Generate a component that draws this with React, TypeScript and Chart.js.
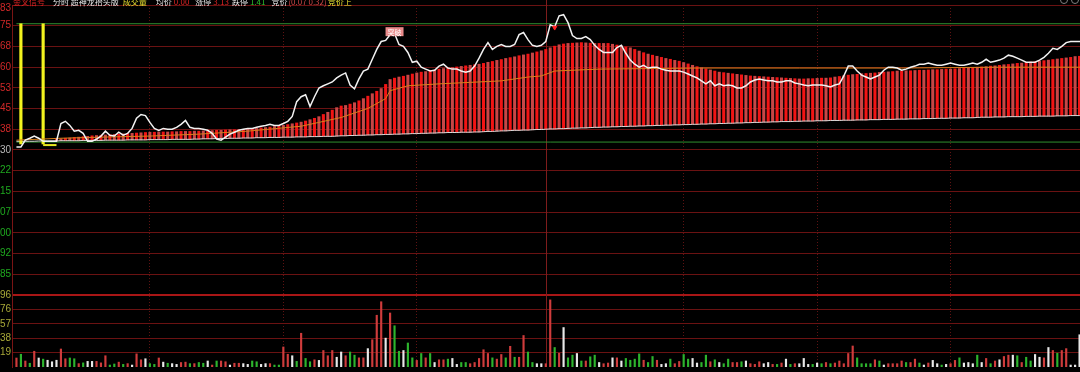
import React, { useEffect, useRef } from "react";
import { Chart, registerables } from "chart.js";
Chart.register(...registerables);

// ---------- data (minute index 0..240, price in yuan) ----------
const PRE_CLOSE = 2.3;
const PRICE_TICKS = [2.8306, 2.7548, 2.679, 2.6032, 2.5274, 2.4516, 2.3758, 2.3, 2.2242, 2.1484, 2.0726, 1.9968, 1.921, 1.8452];
const VOL_TICKS = [19.2, 38.4, 57.6, 76.8, 96];
const X_GRID_MINUTES = [30, 60, 90, 150, 180, 210];
const CURSOR_MINUTE = 119;

const PRICE = [
  2.311, 2.311, 2.336, 2.343, 2.351, 2.343, 2.332, 2.332, 2.332, 2.332,
  2.397, 2.405, 2.390, 2.369, 2.372, 2.361, 2.332, 2.332, 2.340, 2.351,
  2.369, 2.354, 2.351, 2.365, 2.354, 2.361, 2.379, 2.416, 2.430, 2.426,
  2.401, 2.379, 2.372, 2.379, 2.376, 2.376, 2.383, 2.394, 2.408, 2.383,
  2.379, 2.379, 2.376, 2.372, 2.361, 2.340, 2.336, 2.347, 2.358, 2.365,
  2.372, 2.376, 2.379, 2.379, 2.383, 2.387, 2.390, 2.394, 2.390, 2.390,
  2.397, 2.405, 2.423, 2.477, 2.495, 2.502, 2.459, 2.495, 2.527, 2.535,
  2.542, 2.549, 2.564, 2.574, 2.582, 2.538, 2.524, 2.560, 2.589, 2.596,
  2.632, 2.668, 2.697, 2.701, 2.722, 2.726, 2.686, 2.679, 2.657, 2.621,
  2.625, 2.603, 2.596, 2.589, 2.592, 2.607, 2.614, 2.600, 2.596, 2.596,
  2.589, 2.585, 2.589, 2.607, 2.636, 2.668, 2.693, 2.668, 2.679, 2.686,
  2.679, 2.679, 2.686, 2.722, 2.730, 2.704, 2.683, 2.679, 2.683, 2.697,
  2.758, 2.751, 2.791, 2.795, 2.766, 2.719, 2.708, 2.708, 2.715, 2.704,
  2.683, 2.668, 2.657, 2.657, 2.657, 2.675, 2.683, 2.654, 2.629, 2.614,
  2.603, 2.610, 2.600, 2.603, 2.603, 2.596, 2.592, 2.589, 2.589, 2.589,
  2.585, 2.578, 2.571, 2.564, 2.553, 2.542, 2.553, 2.535, 2.542, 2.535,
  2.538, 2.535, 2.527, 2.527, 2.535, 2.549, 2.556, 2.560, 2.556, 2.553,
  2.553, 2.549, 2.549, 2.553, 2.553, 2.545, 2.542, 2.538, 2.535, 2.538,
  2.538, 2.538, 2.535, 2.531, 2.538, 2.542, 2.571, 2.607, 2.607, 2.589,
  2.574, 2.567, 2.560, 2.567, 2.574, 2.592, 2.603, 2.603, 2.600, 2.592,
  2.596, 2.603, 2.607, 2.614, 2.614, 2.618, 2.614, 2.610, 2.610, 2.614,
  2.618, 2.614, 2.610, 2.610, 2.614, 2.618, 2.614, 2.621, 2.632, 2.621,
  2.625, 2.629, 2.636, 2.647, 2.643, 2.636, 2.629, 2.621, 2.621, 2.621,
  2.629, 2.639, 2.654, 2.672, 2.668, 2.679, 2.693, 2.697, 2.697, 2.697,
  2.697,
];

const BAR_TOP = [
  null, null, null, null, null, null, null, null, null, 2.340,
  2.341, 2.343, 2.344, 2.346, 2.347, 2.349, 2.350, 2.352, 2.353, 2.354,
  2.355, 2.356, 2.357, 2.358, 2.359, 2.360, 2.361, 2.362, 2.363, 2.364,
  2.365, 2.365, 2.366, 2.366, 2.366, 2.367, 2.367, 2.368, 2.368, 2.368,
  2.369, 2.369, 2.370, 2.370, 2.371, 2.372, 2.372, 2.373, 2.374, 2.374,
  2.375, 2.375, 2.376, 2.378, 2.379, 2.381, 2.382, 2.384, 2.386, 2.387,
  2.390, 2.393, 2.396, 2.399, 2.402, 2.406, 2.411, 2.416, 2.422, 2.430,
  2.438, 2.446, 2.455, 2.461, 2.463, 2.468, 2.473, 2.480, 2.488, 2.497,
  2.506, 2.515, 2.525, 2.540, 2.558, 2.563, 2.567, 2.570, 2.574, 2.578,
  2.582, 2.585, 2.587, 2.590, 2.593, 2.596, 2.598, 2.600, 2.602, 2.604,
  2.606, 2.608, 2.610, 2.612, 2.614, 2.617, 2.621, 2.624, 2.628, 2.631,
  2.635, 2.638, 2.641, 2.645, 2.648, 2.651, 2.655, 2.659, 2.663, 2.668,
  2.674, 2.680, 2.685, 2.688, 2.690, 2.691, 2.692, 2.693, 2.692, 2.691,
  2.690, 2.690, 2.690, 2.690, 2.687, 2.684, 2.681, 2.677, 2.674, 2.668,
  2.662, 2.656, 2.651, 2.647, 2.643, 2.639, 2.635, 2.632, 2.628, 2.625,
  2.620, 2.615, 2.610, 2.605, 2.601, 2.597, 2.593, 2.589, 2.585, 2.583,
  2.581, 2.579, 2.577, 2.575, 2.573, 2.571, 2.570, 2.569, 2.568, 2.567,
  2.566, 2.565, 2.564, 2.563, 2.562, 2.561, 2.560, 2.560, 2.561, 2.561,
  2.562, 2.563, 2.563, 2.564, 2.567, 2.569, 2.572, 2.574, 2.576, 2.577,
  2.579, 2.580, 2.581, 2.582, 2.584, 2.585, 2.586, 2.587, 2.589, 2.589,
  2.590, 2.590, 2.591, 2.592, 2.592, 2.593, 2.594, 2.594, 2.595, 2.596,
  2.596, 2.597, 2.598, 2.599, 2.600, 2.601, 2.603, 2.604, 2.605, 2.607,
  2.608, 2.610, 2.612, 2.613, 2.615, 2.617, 2.618, 2.620, 2.622, 2.623,
  2.625, 2.627, 2.629, 2.631, 2.633, 2.635, 2.637, 2.639, 2.642, 2.643,
  2.644,
];

const BAR_BASE = [
  2.332, 2.332, 2.332, 2.332, 2.332, 2.333, 2.333, 2.333, 2.333, 2.333,
  2.334, 2.334, 2.334, 2.334, 2.334, 2.335, 2.335, 2.335, 2.335, 2.335,
  2.336, 2.336, 2.336, 2.336, 2.336, 2.337, 2.337, 2.337, 2.337, 2.337,
  2.338, 2.338, 2.338, 2.338, 2.338, 2.339, 2.339, 2.339, 2.339, 2.339,
  2.340, 2.340, 2.341, 2.341, 2.341, 2.342, 2.342, 2.342, 2.343, 2.343,
  2.343, 2.344, 2.344, 2.344, 2.345, 2.345, 2.345, 2.346, 2.346, 2.346,
  2.347, 2.347, 2.347, 2.348, 2.348, 2.348, 2.349, 2.349, 2.349, 2.350,
  2.350, 2.350, 2.351, 2.352, 2.352, 2.353, 2.353, 2.354, 2.354, 2.355,
  2.355, 2.356, 2.356, 2.357, 2.357, 2.358, 2.358, 2.359, 2.359, 2.360,
  2.360, 2.361, 2.361, 2.362, 2.362, 2.363, 2.363, 2.364, 2.364, 2.364,
  2.365, 2.365, 2.365, 2.366, 2.366, 2.367, 2.368, 2.368, 2.369, 2.370,
  2.370, 2.371, 2.372, 2.372, 2.373, 2.373, 2.374, 2.375, 2.375, 2.376,
  2.377, 2.377, 2.378, 2.378, 2.379, 2.380, 2.380, 2.381, 2.381, 2.382,
  2.383, 2.383, 2.384, 2.384, 2.385, 2.385, 2.386, 2.386, 2.387, 2.387,
  2.388, 2.388, 2.389, 2.389, 2.390, 2.390, 2.391, 2.391, 2.392, 2.392,
  2.393, 2.393, 2.394, 2.394, 2.395, 2.395, 2.396, 2.396, 2.397, 2.397,
  2.398, 2.398, 2.399, 2.399, 2.400, 2.400, 2.401, 2.401, 2.402, 2.402,
  2.403, 2.403, 2.404, 2.404, 2.404, 2.405, 2.405, 2.406, 2.406, 2.406,
  2.407, 2.407, 2.407, 2.408, 2.408, 2.408, 2.409, 2.409, 2.409, 2.410,
  2.410, 2.410, 2.411, 2.411, 2.411, 2.412, 2.412, 2.412, 2.413, 2.413,
  2.413, 2.414, 2.414, 2.414, 2.415, 2.415, 2.415, 2.416, 2.416, 2.416,
  2.417, 2.417, 2.417, 2.418, 2.418, 2.418, 2.419, 2.420, 2.420, 2.420,
  2.421, 2.421, 2.421, 2.422, 2.422, 2.422, 2.422, 2.423, 2.423, 2.423,
  2.424, 2.424, 2.424, 2.424, 2.425, 2.425, 2.425, 2.426, 2.426, 2.426,
  2.426,
];

const AVG_MINUTES = [0, 10, 19, 30, 41, 52, 64, 68, 73, 79, 83, 84, 88, 95, 109, 115, 118, 121, 131, 154, 176, 199, 221, 240];
const AVG_PRICES = [2.336, 2.343, 2.347, 2.351, 2.358, 2.369, 2.387, 2.401, 2.419, 2.452, 2.488, 2.517, 2.535, 2.542, 2.553, 2.567, 2.571, 2.589, 2.596, 2.600, 2.600, 2.600, 2.603, 2.603];

const VOLUME = [
  12, 17, 8, 5, 21, 12, 10.5, 9, 7, 9,
  24, 11, 12, 11, 4.5, 5.5, 7.5, 7.5, 7.5, 5.5,
  15, 2.6, 4, 6.5, 3.5, 4.5, 2.6, 17.5, 9.6, 11,
  4.5, 3.5, 12, 6.5, 5, 4.5, 3.5, 6, 6.5, 4.5,
  4.5, 6, 5, 8, 2.6, 8, 8, 7, 2.6, 5,
  5, 4.5, 3.5, 8, 7, 3.5, 4.5, 4.5, 2.6, 2.6,
  26.7, 17, 15, 7.5, 45, 11.4, 7, 9.6, 8.8, 22,
  15, 22, 13, 20, 15, 20, 15.8, 12.2, 12.2, 24.5,
  36.4, 69, 87, 38.5, 72, 55, 21, 22, 32, 12.2,
  8.8, 18, 12.2, 18, 6, 9.6, 9.6, 10.5, 11.4, 3.5,
  6, 6, 4.4, 6, 11.4, 23, 18, 12.2, 10.5, 16.7,
  12.2, 27.6, 13, 13, 42, 20, 6, 4.4, 4.4, 4.4,
  89.5, 26, 18.4, 52.6, 12.2, 15.8, 18, 8, 8, 13.6,
  15.8, 6, 4.4, 5.3, 12.2, 12.2, 8, 11.4, 9, 10.5,
  17.5, 9, 6, 14, 9, 3.5, 4.4, 10.5, 4.4, 7.4,
  16.7, 10.5, 11.4, 5.3, 6, 15.8, 7, 9.6, 6, 4.4,
  10.5, 6, 6, 7, 8, 4.4, 3.5, 7, 4.4, 6,
  3.5, 3.5, 5.3, 10.5, 3.5, 4.4, 4.4, 11.4, 3.5, 3.5,
  5.3, 4.4, 6, 4.4, 5.3, 8, 4.4, 18, 28, 12.2,
  4.4, 4.4, 4.4, 9.6, 8, 2.6, 4.4, 4.4, 4.4, 8,
  6, 6, 10.5, 5.3, 2.6, 5.3, 8.8, 4.4, 2.6, 3.5,
  4.4, 8.8, 12.2, 5.3, 6, 4.4, 15.8, 6, 11.4, 4.4,
  8, 9.6, 14, 15.8, 15.8, 15, 6, 13, 8, 16.7,
  13, 12.2, 26, 22, 18.4, 22, 24.5, 2.6, 2.6, 43,
];
// 1 = up (red), -1 = down (green), 0 = flat (white)
const VOLUME_DIR = [
  1, -1, 1, -1, 1, 0, -1, 0, 0, 0,
  1, 1, -1, -1, 1, -1, 0, 0, 1, 1,
  1, -1, -1, 1, -1, 1, 0, 1, 1, 0,
  -1, -1, 1, 0, -1, 0, 0, 1, 1, -1,
  1, -1, -1, 0, 1, -1, 1, 1, 0, 1,
  1, 0, 0, -1, -1, 0, 0, 1, -1, -1,
  1, 1, 0, -1, 1, -1, -1, 1, 0, 1,
  1, 1, 0, 0, 1, -1, -1, 1, 1, 0,
  1, 1, 1, 0, 1, -1, -1, 0, -1, -1,
  1, -1, 1, -1, 0, 1, 1, -1, 0, 0,
  -1, -1, 1, 1, 1, 1, 1, -1, 1, 1,
  -1, 1, -1, 1, 1, -1, -1, 0, 0, 1,
  1, -1, 1, 0, -1, -1, 0, -1, 1, -1,
  -1, 0, 1, 1, 0, 1, 0, -1, -1, -1,
  -1, 1, -1, -1, 1, 0, 0, -1, 1, 1,
  -1, -1, 0, 0, -1, -1, 1, -1, 0, -1,
  -1, 1, 1, -1, 0, 1, 1, 1, 0, 0,
  1, -1, 1, 0, -1, 1, 0, 0, 0, -1,
  0, -1, 1, -1, 1, 1, 1, 1, 1, -1,
  -1, -1, -1, 1, -1, 0, 1, 1, 1, 1,
  -1, 1, 1, -1, 0, 1, 0, 0, -1, 0,
  1, 1, -1, 0, 0, 0, -1, 0, 1, -1,
  1, 0, 1, 1, 0, -1, 1, -1, -1, 0,
  0, 1, 0, 1, -1, 1, 1, 0, 0, 0,
];

const SIGNAL_MINUTES = [1, 6];
const SIGNAL_LOW = 2.322;
const SIGNAL_HIGH = 2.762;
const SIGNAL_FLOOR_MINUTES = [6, 9];
const SIGNAL_FLOOR_PRICE = 2.318;
const LEVEL_HIGH = 2.762;
const LEVEL_LOW = 2.329;
const MARK_TEXT = "突破";
const MARK_MINUTE = 85;
const MARK_PRICE = 2.733;
const PEAK_MARK_MINUTE = 121;
const PEAK_MARK_PRICE = 2.748;

const HEADER = [
  { text: "金叉信号", color: "#e02424", gap: 8 },
  { text: "分时 超神龙抬头版", color: "#e6e6e6", gap: 4 },
  { text: "成交量", color: "#e8e030", gap: 9 },
  { text: "均价", color: "#e6e6e6", gap: 2 },
  { text: "0.00", color: "#e02424", gap: 6 },
  { text: "涨停", color: "#e6e6e6", gap: 2 },
  { text: "3.13", color: "#e02424", gap: 3 },
  { text: "跌停", color: "#e6e6e6", gap: 2 },
  { text: "1.41", color: "#2cc02c", gap: 6 },
  { text: "竞价", color: "#e6e6e6", gap: 1 },
  { text: "(0.07 0.32)", color: "#d04848", gap: 1 },
  { text: "竞价上", color: "#e8e030", gap: 0 },
];

// layout constants for the two panes sharing one chart area
const PRICE_MAX = 2.8306;
const PRICE_MIN = 1.5059;
const VOL_MAX = 482.6;

const GRID = "#6a1212";

export default function App() {
  const ref = useRef<HTMLCanvasElement>(null);

  useEffect(() => {
    document.body.style.margin = "0";
    document.body.style.background = "#000";
    const canvas = ref.current!;

    const overlay = {
      id: "overlay",
      beforeDraw(chart: any) {
        const { ctx, width, height } = chart;
        ctx.save();
        ctx.fillStyle = "#000";
        ctx.fillRect(0, 0, width, height);
        ctx.restore();
      },
      beforeDatasetsDraw(chart: any) {
        const { ctx, chartArea, scales } = chart;
        const x = Math.round(scales.x.getPixelForValue(CURSOR_MINUTE)) + 0.5;
        ctx.save();
        ctx.strokeStyle = "#7e1c1c";
        ctx.lineWidth = 1;
        ctx.beginPath();
        ctx.moveTo(x, 0);
        ctx.lineTo(x, chartArea.bottom);
        ctx.stroke();
        ctx.restore();
      },
      afterDraw(chart: any) {
        const { ctx, scales } = chart;
        ctx.save();
        // axis labels (left part clipped by canvas edge, as in the original)
        ctx.font = '10px "Liberation Sans", Arial, sans-serif';
        ctx.textAlign = "right";
        ctx.textBaseline = "middle";
        for (const v of PRICE_TICKS) {
          const y = Math.max(8, scales.yPrice.getPixelForValue(v));
          ctx.fillStyle = Math.abs(v - PRE_CLOSE) < 1e-6 ? "#b8b8b8" : v > PRE_CLOSE ? "#d02828" : "#1fa81f";
          ctx.fillText(v.toFixed(2), 11, y);
        }
        for (const v of VOL_TICKS) {
          const y = scales.yVol.getPixelForValue(v);
          ctx.fillStyle = "#a8a838";
          ctx.fillText(String(Math.floor(v)), 11, y);
        }
        // header (top part cut by the canvas edge, as in the original)
        ctx.font = '8px "Noto Sans CJK SC", sans-serif';
        ctx.textAlign = "left";
        ctx.textBaseline = "alphabetic";
        let hx = 13;
        for (const h of HEADER) {
          ctx.fillStyle = h.color;
          ctx.fillText(h.text, hx, 4.5);
          hx += ctx.measureText(h.text).width + h.gap;
        }
        // top-right icons
        ctx.strokeStyle = "#808080";
        ctx.lineWidth = 1;
        ctx.beginPath();
        ctx.arc(1064, 0, 3.5, 0, Math.PI * 2);
        ctx.stroke();
        ctx.beginPath();
        ctx.arc(1075, 0, 3.5, 0, Math.PI * 2);
        ctx.stroke();
        // pink mark label
        const mx = scales.x.getPixelForValue(MARK_MINUTE);
        const my = scales.yPrice.getPixelForValue(MARK_PRICE);
        ctx.fillStyle = "#e88a8a";
        ctx.fillRect(mx - 9, my - 4.5, 18, 9);
        ctx.fillStyle = "#ffffff";
        ctx.font = '7px "Noto Sans CJK SC", sans-serif';
        ctx.textAlign = "center";
        ctx.textBaseline = "middle";
        ctx.fillText(MARK_TEXT, mx, my + 0.5);
        ctx.restore();
      },
    };

    const chart = new Chart(canvas, {
      type: "line",
      data: {
        datasets: [
          {
            type: "line",
            data: [{ x: PEAK_MARK_MINUTE, y: PEAK_MARK_PRICE }],
            yAxisID: "yPrice",
            showLine: false,
            pointStyle: "triangle",
            rotation: 180,
            pointRadius: 2.5,
            backgroundColor: "#ff2020",
            borderColor: "#ff2020",
            order: -1,
          },
          {
            type: "line",
            data: PRICE.map((p, i) => ({ x: i, y: p })),
            yAxisID: "yPrice",
            borderColor: "#f2f2f2",
            borderWidth: 1.5,
            pointRadius: 0,
            tension: 0,
            order: 0,
          },
          {
            type: "line",
            data: AVG_MINUTES.map((m, i) => ({ x: m, y: AVG_PRICES[i] })),
            yAxisID: "yPrice",
            borderColor: "#d8801c",
            borderWidth: 1,
            pointRadius: 0,
            order: 1,
          },
          {
            type: "bar",
            data: SIGNAL_MINUTES.map((m) => ({ x: m, y: [SIGNAL_LOW, SIGNAL_HIGH] })),
            yAxisID: "yPrice",
            backgroundColor: "#f2f21e",
            barThickness: 2.5,
            grouped: false,
            order: 1,
          },
          {
            type: "line",
            data: SIGNAL_FLOOR_MINUTES.map((m) => ({ x: m, y: SIGNAL_FLOOR_PRICE })),
            yAxisID: "yPrice",
            borderColor: "#e8e820",
            borderWidth: 2,
            pointRadius: 0,
            order: 1,
          },
          {
            type: "line",
            data: BAR_BASE.map((p, i) => ({ x: i, y: p })),
            yAxisID: "yPrice",
            borderColor: "#d8d8d8",
            borderWidth: 1,
            pointRadius: 0,
            order: 2,
          },
          {
            type: "bar",
            data: BAR_TOP.map((t, i) => (t == null ? null : { x: i, y: [BAR_BASE[i], t] })).filter(Boolean) as any,
            yAxisID: "yPrice",
            backgroundColor: (c: any) => (c.dataIndex % 2 ? "#c84646" : "#f21414"),
            barThickness: 2.4,
            grouped: false,
            order: 3,
          },
          {
            type: "bar",
            data: VOLUME.map((v, i) => ({ x: i, y: v })),
            yAxisID: "yVol",
            backgroundColor: (c: any) => {
              const d = VOLUME_DIR[c.dataIndex];
              return d > 0 ? "#cf3c3c" : d < 0 ? "#2db42d" : "#e8e8e8";
            },
            barThickness: 1.5,
            grouped: false,
            order: 3,
          },
          {
            type: "line",
            data: [{ x: 0, y: LEVEL_HIGH }, { x: 240, y: LEVEL_HIGH }],
            yAxisID: "yPrice",
            borderColor: "#2f8f2f",
            borderWidth: 1,
            pointRadius: 0,
            order: 5,
          },
          {
            type: "line",
            data: [{ x: 0, y: LEVEL_LOW }, { x: 240, y: LEVEL_LOW }],
            yAxisID: "yPrice",
            borderColor: "#2f8f2f",
            borderWidth: 1,
            pointRadius: 0,
            order: 5,
          },
        ] as any,
      },
      options: {
        responsive: false,
        animation: false,
        events: [],
        layout: { padding: { top: 5, right: 6, bottom: 0, left: 0 } },
        plugins: { legend: { display: false }, tooltip: { enabled: false } },
        scales: {
          x: {
            type: "linear",
            min: -1,
            max: 240,
            offset: false,
            afterBuildTicks: (s: any) => {
              s.ticks = X_GRID_MINUTES.map((v) => ({ value: v }));
            },
            afterFit: (s: any) => {
              s.height = 0;
            },
            ticks: { display: false },
            grid: { color: "#5e1212", lineWidth: 1, drawTicks: false, offset: false },
            border: { display: false, dash: [1, 2] },
          },
          yPrice: {
            type: "linear",
            position: "left",
            min: PRICE_MIN,
            max: PRICE_MAX,
            beginAtZero: false,
            afterBuildTicks: (s: any) => {
              s.ticks = PRICE_TICKS.map((v) => ({ value: v }));
            },
            afterFit: (s: any) => {
              s.width = 12;
            },
            ticks: { display: false },
            grid: { color: GRID, lineWidth: 1, drawTicks: false },
            border: { display: true, color: "#7a1414", width: 1 },
          },
          yVol: {
            type: "linear",
            position: "left",
            min: 0,
            max: VOL_MAX,
            beginAtZero: false,
            afterBuildTicks: (s: any) => {
              s.ticks = VOL_TICKS.map((v) => ({ value: v }));
            },
            afterFit: (s: any) => {
              s.width = 0;
            },
            ticks: { display: false },
            grid: {
              color: (c: any) => (c.tick && c.tick.value === 96 ? "#a81616" : GRID),
              lineWidth: (c: any) => (c.tick && c.tick.value === 96 ? 2 : 1),
              drawTicks: false,
            },
            border: { display: false },
          },
        },
      } as any,
      plugins: [overlay],
    });
    return () => chart.destroy();
  }, []);

  return (
    <div style={{ width: 1080, height: 372, overflow: "hidden", background: "#000", position: "relative" }}>
      <canvas ref={ref} width={1090} height={372} style={{ display: "block", width: 1090, height: 372 }} />
    </div>
  );
}
